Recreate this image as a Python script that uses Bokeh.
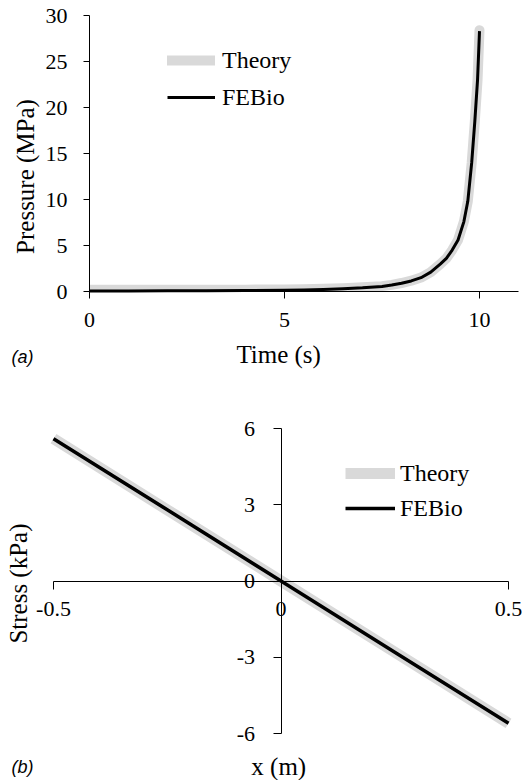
import math
from bokeh.plotting import figure
from bokeh.layouts import column
from bokeh.models import Range1d, FixedTicker, Legend, LegendItem, Label, BoxAnnotation
from bokeh.embed import file_html
from bokeh.resources import INLINE

# ---------------- data ----------------
# (a) pressure vs time
time_s = [0, 1, 2, 3, 4, 5, 5.5, 6, 6.5, 7, 7.5, 7.75, 8, 8.25, 8.5, 8.75,
          9, 9.15, 9.3, 9.45, 9.6, 9.7, 9.8, 9.88, 9.95, 10.0]
theory_mpa = [0.2, 0.2, 0.2, 0.2, 0.2, 0.22, 0.25, 0.3, 0.36, 0.45, 0.58, 0.72, 0.92,
              1.17, 1.52, 2.1, 3.0, 3.6, 4.5, 5.6, 7.6, 9.8, 14.0, 18.5, 23.0, 28.4]
febio_mpa = [0.05, 0.06, 0.07, 0.09, 0.11, 0.14, 0.17, 0.22, 0.3, 0.4, 0.55, 0.7, 0.9,
             1.15, 1.5, 2.1, 3.0, 3.6, 4.5, 5.6, 7.6, 9.8, 14.0, 18.5, 23.0, 28.3]
time_ticks = [0, 5, 10]
pressure_ticks = [0, 5, 10, 15, 20, 25, 30]

# (b) stress vs x
x_m = [-0.5, -0.25, 0.0, 0.25, 0.5]
theory_kpa = [5.6, 2.8, 0.0, -2.8, -5.6]
febio_kpa = [5.6, 2.8, 0.0, -2.8, -5.6]
x_ticks = [-0.5, 0, 0.5]
x_tick_labels = ["-0.5", "0", "0.5"]
stress_ticks = [-6, -3, 0, 3, 6]
stress_tick_labels = ["-6", "-3", "0", "3", "6"]

SERIF = "Liberation Serif"
SANS = "Liberation Sans"
GRAY = "#d9d9d9"
TICK_FS = "22px"
LABEL_FS = "25px"
LEGEND_FS = "24px"
W, H = 523, 390


def span(v0, p0, v1, p1, total):
    """Range whose ends put value v0 at pixel p0 and v1 at pixel p1 on a frame of size total."""
    k = (v1 - v0) / (p1 - p0)
    return Range1d(v0 - p0 * k, v0 + (total - p0) * k)


def style_axis(ax, ticks, tick_out, standoff, loc, bounds, overrides=None):
    ax.fixed_location = loc
    ax.bounds = bounds
    ax.ticker = FixedTicker(ticks=ticks)
    ax.minor_tick_line_color = None
    ax.major_tick_in = 0
    ax.major_tick_out = tick_out
    ax.major_tick_line_color = "black"
    ax.axis_line_color = "black"
    ax.axis_line_width = 1
    ax.major_label_standoff = standoff
    ax.major_label_text_font = SERIF
    ax.major_label_text_font_size = TICK_FS
    ax.major_label_text_color = "black"
    if overrides:
        ax.major_label_overrides = overrides


def make_legend(r_theory, r_febio, loc, spacing, standoff, gw):
    return Legend(
        items=[LegendItem(label="Theory", renderers=[r_theory]),
               LegendItem(label="FEBio", renderers=[r_febio])],
        location=loc, glyph_width=gw, glyph_height=30, label_height=30,
        label_standoff=standoff, spacing=spacing, padding=0, margin=0,
        border_line_color=None, background_fill_alpha=0,
        label_text_font=SERIF, label_text_font_size=LEGEND_FS, label_text_color="black",
    )


def text(p, x, y, s, font=SERIF, size=LABEL_FS, angle=0.0, style="normal"):
    p.add_layout(Label(x=x, y=y, text=s, angle=angle, text_align="center",
                       text_baseline="middle", text_font=font, text_font_size=size,
                       text_font_style=style, text_color="black"))


def base_fig(xr, yr):
    p = figure(width=W, height=H, min_border=0, output_backend="svg",
               toolbar_location=None, x_range=xr, y_range=yr)
    p.xgrid.grid_line_color = None
    p.ygrid.grid_line_color = None
    p.outline_line_color = None
    return p


def mask(p, **edges):
    # white cover at glyph level: hides the thick band outside the plot area
    p.add_layout(BoxAnnotation(fill_color="white", fill_alpha=1, line_color=None,
                               level="glyph", **edges))


# ---------------- panel (a) ----------------
# pixel layout: x=0 at px 89, x=11 at px 518; P=0 at px 99 (from bottom), P=30 at px 375
p1 = base_fig(span(0, 89, 11, 518, W), span(0, 99, 30, 375, H))
style_axis(p1.xaxis[0], time_ticks, 7, 14, 0, (0, 11))
style_axis(p1.yaxis[0], pressure_ticks, 6, 16, 0, (0, 30))

r1t = p1.line(time_s, theory_mpa, line_color=GRAY, line_width=10, line_cap="round",
              line_join="round")
mask(p1, top=0)
mask(p1, right=0)
r1f = p1.line(time_s, febio_mpa, line_color="black", line_width=3, line_join="round",
              level="guide")
p1.add_layout(make_legend(r1t, r1f, (167, 278), 7, 7, 48))

text(p1, -1.64, 12.5, "Pressure (MPa)", angle=math.pi / 2)
text(p1, 4.85, -6.85, "Time (s)")
text(p1, -1.72, -7.07, "(a)", font=SANS, size="18px", style="italic")

# ---------------- panel (b) ----------------
# pixel layout: x=-0.5 at px 53, x=0.5 at px 508; S=-6 at px 47 (from bottom), S=6 at px 352
p2 = base_fig(span(-0.5, 53, 0.5, 508, W), span(-6, 47, 6, 352, H))
style_axis(p2.xaxis[0], x_ticks, 8, 13, 0, (-0.5, 0.5), dict(zip(x_ticks, x_tick_labels)))
style_axis(p2.yaxis[0], stress_ticks, 8, 18, 0, (-6, 6),
           dict(zip(stress_ticks, stress_tick_labels)))

r2t = p2.line(x_m, theory_kpa, line_color=GRAY, line_width=11)
r2f = p2.line(x_m, febio_kpa, line_color="black", line_width=3.5)
p2.add_layout(make_legend(r2t, r2f, (345, 257), 5, 5, 50))

text(p2, -0.577, -0.1, "Stress (kPa)", angle=math.pi / 2)
text(p2, -0.005, -7.3, "x (m)")
text(p2, -0.568, -7.3, "(b)", font=SANS, size="18px", style="italic")

layout = column(p1, p2, spacing=0)
open("out.html", "w").write(file_html(layout, INLINE))
